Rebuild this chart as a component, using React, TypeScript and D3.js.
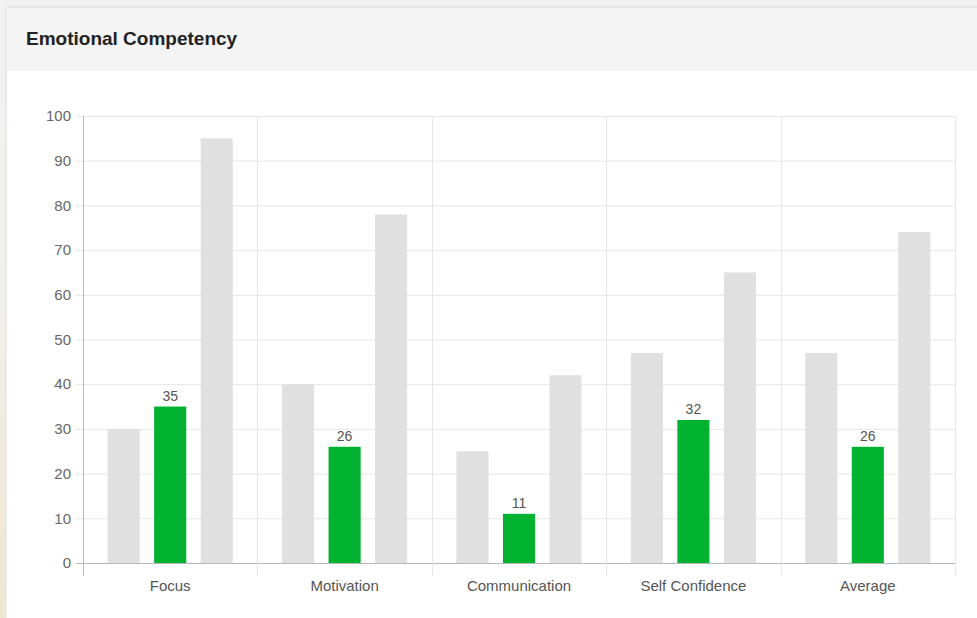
import React from "react";
import * as d3 from "d3";

const categories = ["Focus", "Motivation", "Communication", "Self Confidence", "Average"];
const seriesNames = ["low", "score", "high"];
const lowValues = [30, 40, 25, 47, 47];
const scoreValues = [35, 26, 11, 32, 26];
const highValues = [95, 78, 42, 65, 74];
const yTicks = [0, 10, 20, 30, 40, 50, 60, 70, 80, 90, 100];
const title = "Emotional Competency";

const W = 977;
const H = 618;
const left = 83;
const right = 955;
const top = 116;
const bottom = 563;

export default function App() {
  const x = d3.scaleBand<string>().domain(categories).range([left, right]).paddingInner(0).paddingOuter(0);
  const bw = x.bandwidth();
  const inner = d3
    .scaleBand<string>()
    .domain(seriesNames)
    .range([bw * 0.1, bw * 0.9])
    .paddingInner(0.31)
    .paddingOuter(0.155);
  const y = d3.scaleLinear().domain([0, 100]).range([bottom, top]);
  const series = [
    { key: "low", values: lowValues, color: "#e0e0e0" },
    { key: "score", values: scoreValues, color: "#00b22f" },
    { key: "high", values: highValues, color: "#e0e0e0" },
  ];
  const font = "'Liberation Sans', Arial, Helvetica, sans-serif";
  const boundaries = [...categories.map((c) => x(c)!), right];

  return (
    <div style={{ position: "fixed", left: 0, top: 0, width: W, height: H }}>
      <svg width={W} height={H} style={{ display: "block" }}>
        <defs>
          <linearGradient id="edge" x1="0" y1="0" x2="0" y2="1">
            <stop offset="0" stopColor="#f2f2f2" />
            <stop offset="0.5" stopColor="#f1efe9" />
            <stop offset="1" stopColor="#efe6cf" />
          </linearGradient>
        </defs>
        <rect x={0} y={0} width={W} height={H} fill="#f1f1f1" />
        <rect x={0} y={0} width={7} height={H} fill="url(#edge)" />
        <rect x={7} y={6} width={W - 7} height={2} fill="#e6e6e6" />
        <rect x={7} y={8} width={W - 7} height={H - 8} fill="#ffffff" />
        <rect x={7} y={8} width={W - 7} height={63} fill="#f4f4f4" />
        <rect x={5} y={8} width={2} height={H - 8} fill="#e9e9e9" />
        <text x={26} y={45} fontFamily={font} fontWeight="bold" fontSize={19} fill="#222">
          {title}
        </text>

        {yTicks.map((t) => (
          <g key={t}>
            <line x1={left - 7} x2={right} y1={y(t) + 0.5} y2={y(t) + 0.5} stroke={t === 0 ? "#b8b8b8" : "#e6e6e6"} />
            <text x={left - 12} y={y(t)} dy="0.35em" textAnchor="end" fontFamily={font} fontSize={15} fill="#666">
              {t}
            </text>
          </g>
        ))}
        {boundaries.map((bx, i) => (
          <line key={i} x1={Math.round(bx) + 0.5} x2={Math.round(bx) + 0.5} y1={top} y2={bottom + 13} stroke={i === 0 ? "#b8b8b8" : "#e6e6e6"} />
        ))}

        {series.map((s) =>
          categories.map((c, i) => {
            const bx = x(c)! + inner(s.key)!;
            const v = s.values[i];
            return <rect key={s.key + c} x={bx} y={y(v)} width={inner.bandwidth()} height={y(0) - y(v)} fill={s.color} />;
          })
        )}
        {categories.map((c, i) => (
          <text
            key={c}
            x={x(c)! + inner("score")! + inner.bandwidth() / 2}
            y={y(scoreValues[i]) - 6}
            textAnchor="middle"
            fontFamily={font}
            fontSize={14}
            fill="#555"
          >
            {scoreValues[i]}
          </text>
        ))}
        {categories.map((c) => (
          <text key={c} x={x(c)! + bw / 2} y={591} textAnchor="middle" fontFamily={font} fontSize={15} fill="#555">
            {c}
          </text>
        ))}
      </svg>
    </div>
  );
}
